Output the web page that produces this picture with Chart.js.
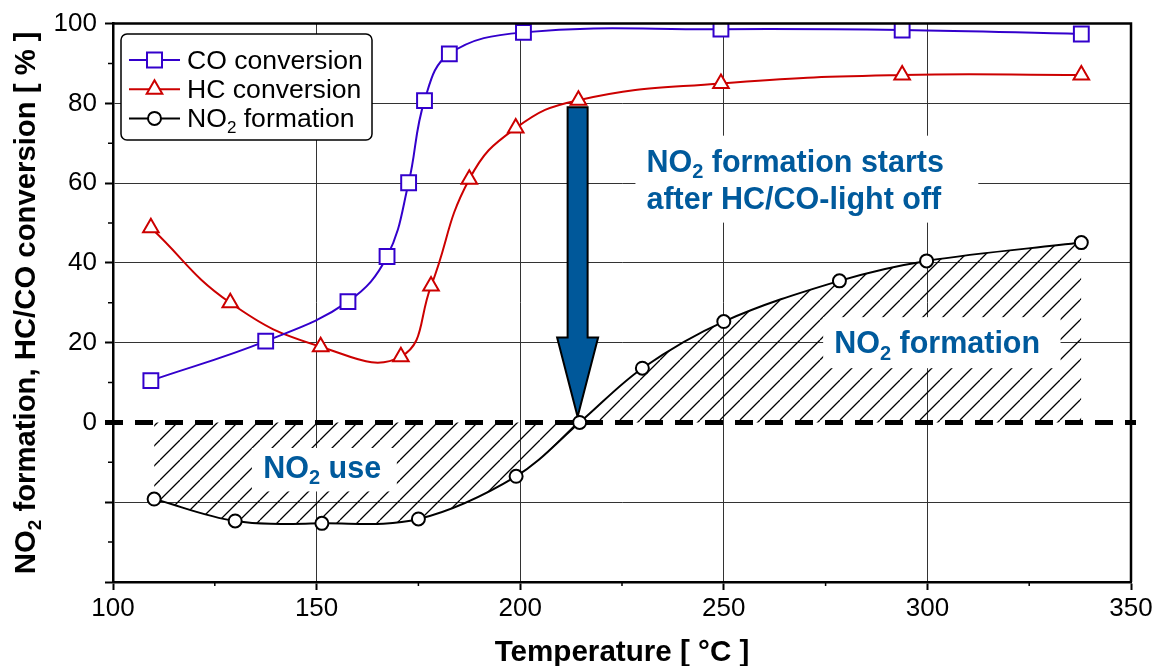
<!DOCTYPE html>
<html>
<head>
<meta charset="utf-8">
<style>
  html, body { margin: 0; padding: 0; background: #fff; }
  #wrap { width: 1162px; height: 666px; }
</style>
<script src="https://cdn.jsdelivr.net/npm/chart.js@4.4.1/dist/chart.umd.min.js"></script>
</head>
<body>
<div id="wrap"><canvas id="chart" width="1162" height="666"></canvas></div>
<script>
// values
const coTemp = [109.3, 137.5, 157.7, 167.3, 172.6, 176.5, 182.6, 200.8, 249.3, 293.8, 337.8];
const coConv = [10.5, 20.4, 30.3, 41.6, 60.1, 80.7, 92.4, 97.8, 98.6, 98.4, 97.4];
const hcTemp = [109.3, 128.8, 151.0, 170.7, 178.1, 187.5, 198.9, 214.3, 249.3, 293.8, 337.8];
const hcConv = [48.8, 30.0, 19.0, 16.5, 34.2, 61.0, 73.8, 80.8, 85.0, 87.1, 87.1];
const no2Temp = [110.1, 130.0, 151.3, 175.0, 199.0, 214.6, 230.0, 250.0, 278.4, 299.8, 337.8];
const no2Form = [-19.2, -24.7, -25.3, -24.2, -13.5, 0, 13.6, 25.3, 35.5, 40.5, 45.1];
const yTickLabels = [0, 20, 40, 60, 80, 100];

const FONT = "'Liberation Sans', Arial, Helvetica, sans-serif";
const noteBlue = '#005A9C';

const colors = { co: '#3300CC', hc: '#CC0000', no2: '#000000' };

const toPts = (xs, ys) => xs.map((x, i) => ({ x, y: ys[i] }));

// text pieces: [text, isSubscript]
const legendItems = [
  { parts: [['CO conversion', 0]], color: colors.co, style: 'rect' },
  { parts: [['HC conversion', 0]], color: colors.hc, style: 'triangle' },
  { parts: [['NO', 0], ['2', 1], [' formation', 0]], color: colors.no2, style: 'circle' },
];
const yTitle = [['NO', 0], ['2', 1], [' formation, HC/CO conversion [ % ]', 0]];
const xTitle = [['Temperature [ °C ]', 0]];

const notes = [
  {
    box: [228.3, 71.9, 312.5, 50.1],
    left: 231, baseline: 62.7, gap: 36.5,
    lines: [[['NO', 0], ['2', 1], [' formation starts', 0]], [['after HC/CO-light off', 0]]],
  },
  {
    box: [274.4, 26.4, 332.7, 13.6],
    left: 277.1, baseline: 17.3, gap: 0,
    lines: [[['NO', 0], ['2', 1], [' formation', 0]]],
  },
  {
    box: [134.1, -6.4, 169.7, -17.3],
    left: 136.9, baseline: -14.0, gap: 0,
    lines: [[['NO', 0], ['2', 1], [' use', 0]]],
  },
];

const arrow = { x: 214.1, top: 79, neck: 21.3, tip: 1.4, shaft: 20, head: 41 };

const drawRich = (ctx, parts, x, y, size, color, align = 'left', weight = 'bold') => {
  const subSize = Math.round(size * 0.64);
  const fontOf = (sub) => `${weight} ${sub ? subSize : size}px ${FONT}`;
  let total = 0;
  parts.forEach(([t, sub]) => { ctx.font = fontOf(sub); total += ctx.measureText(t).width; });
  let cx = align === 'center' ? x - total / 2 : x;
  ctx.fillStyle = color;
  ctx.textAlign = 'left';
  ctx.textBaseline = 'alphabetic';
  parts.forEach(([t, sub]) => {
    ctx.font = fontOf(sub);
    ctx.fillText(t, cx, sub ? y + size * 0.2 : y);
    cx += ctx.measureText(t).width;
  });
};

const drawMarker = (ctx, style, x, y, color) => {
  ctx.save();
  ctx.strokeStyle = color;
  ctx.fillStyle = '#fff';
  ctx.lineWidth = 2;
  ctx.beginPath();
  if (style === 'rect') {
    ctx.rect(x - 7.5, y - 7.5, 15, 15);
  } else if (style === 'triangle') {
    const r = 9;
    ctx.moveTo(x, y - r);
    ctx.lineTo(x + r * 0.866, y + r * 0.5);
    ctx.lineTo(x - r * 0.866, y + r * 0.5);
    ctx.closePath();
  } else {
    ctx.arc(x, y, 6.5, 0, Math.PI * 2);
  }
  ctx.fill();
  ctx.stroke();
  ctx.restore();
};

const makeHatch = (ctx) => {
  const c = document.createElement('canvas');
  c.width = 20; c.height = 20;
  const g = c.getContext('2d');
  g.strokeStyle = '#000';
  g.lineWidth = 1.3;
  g.beginPath();
  [-20, 0, 20].forEach((k) => { g.moveTo(k, 20); g.lineTo(k + 20, 0); });
  g.stroke();
  return ctx.createPattern(c, 'repeat');
};

const decorations = {
  id: 'decorations',
  beforeDatasetsDraw(chart) {
    const { ctx, scales: { x, y } } = chart;
    // dashed zero line
    const y0 = y.getPixelForValue(0);
    ctx.save();
    ctx.strokeStyle = '#000';
    ctx.lineWidth = 5;
    ctx.setLineDash([18, 12]);
    ctx.beginPath();
    ctx.moveTo(x.left - 8, y0);
    ctx.lineTo(x.right + 5, y0);
    ctx.stroke();
    ctx.restore();

    // arrow
    const ax = x.getPixelForValue(arrow.x);
    const top = y.getPixelForValue(arrow.top);
    const neck = y.getPixelForValue(arrow.neck);
    const tip = y.getPixelForValue(arrow.tip);
    const s = arrow.shaft / 2;
    const h = arrow.head / 2;
    ctx.save();
    ctx.beginPath();
    ctx.moveTo(ax - s, top);
    ctx.lineTo(ax + s, top);
    ctx.lineTo(ax + s, neck);
    ctx.lineTo(ax + h, neck);
    ctx.lineTo(ax, tip);
    ctx.lineTo(ax - h, neck);
    ctx.lineTo(ax - s, neck);
    ctx.closePath();
    ctx.fillStyle = '#00589A';
    ctx.fill();
    ctx.strokeStyle = '#000';
    ctx.lineWidth = 2;
    ctx.lineJoin = 'miter';
    ctx.stroke();
    ctx.restore();
  },
  afterDatasetsDraw(chart) {
    const { ctx, chartArea: a, scales: { x, y } } = chart;
    // text boxes
    notes.forEach((n) => {
      const x1 = x.getPixelForValue(n.box[0]);
      const y1 = y.getPixelForValue(n.box[1]);
      const x2 = x.getPixelForValue(n.box[2]);
      const y2 = y.getPixelForValue(n.box[3]);
      ctx.fillStyle = '#fff';
      ctx.fillRect(x1, y1, x2 - x1, y2 - y1);
      const lx = x.getPixelForValue(n.left);
      const by = y.getPixelForValue(n.baseline);
      n.lines.forEach((line, i) => drawRich(ctx, line, lx, by + i * n.gap, 30.5, noteBlue));
    });

    // top and right frame
    ctx.save();
    ctx.strokeStyle = '#000';
    ctx.lineWidth = 2.5;
    ctx.beginPath();
    ctx.moveTo(a.left, a.top);
    ctx.lineTo(a.right, a.top);
    ctx.lineTo(a.right, a.bottom);
    ctx.stroke();

    // minor ticks
    ctx.lineWidth = 1.5;
    ctx.beginPath();
    for (let v = -30; v <= 90; v += 20) {
      const py = y.getPixelForValue(v);
      ctx.moveTo(a.left - 5, py);
      ctx.lineTo(a.left, py);
    }
    for (let v = 125; v <= 325; v += 50) {
      const px = x.getPixelForValue(v);
      ctx.moveTo(px, a.bottom);
      ctx.lineTo(px, a.bottom + 4);
    }
    ctx.stroke();
    ctx.restore();
  },
  afterDraw(chart) {
    const { ctx, chartArea: a } = chart;
    // axis titles
    drawRich(ctx, xTitle, (a.left + a.right) / 2, 661, 29.6, '#000', 'center');
    ctx.save();
    ctx.translate(35, (a.top + a.bottom) / 2);
    ctx.rotate(-Math.PI / 2);
    drawRich(ctx, yTitle, 0, 0, 29.3, '#000', 'center');
    ctx.restore();

    // legend
    const bx = 121, by = 34, bw = 251, bh = 106, r = 6;
    ctx.save();
    ctx.beginPath();
    ctx.moveTo(bx + r, by);
    ctx.arcTo(bx + bw, by, bx + bw, by + bh, r);
    ctx.arcTo(bx + bw, by + bh, bx, by + bh, r);
    ctx.arcTo(bx, by + bh, bx, by, r);
    ctx.arcTo(bx, by, bx + bw, by, r);
    ctx.closePath();
    ctx.fillStyle = '#fff';
    ctx.fill();
    ctx.strokeStyle = '#000';
    ctx.lineWidth = 1.5;
    ctx.stroke();
    legendItems.forEach((item, i) => {
      const ry = 60 + i * 29.2;
      ctx.strokeStyle = item.color;
      ctx.lineWidth = 2;
      ctx.beginPath();
      ctx.moveTo(129, ry);
      ctx.lineTo(180, ry);
      ctx.stroke();
      drawMarker(ctx, item.style, 154.5, ry, item.color);
      drawRich(ctx, item.parts, 187, ry + 9, 26.6, '#000', 'left', 'normal');
    });
    ctx.restore();
  },
};

const canvas = document.getElementById('chart');
const ctx2d = canvas.getContext('2d');

const lineSet = (label, xs, ys, color, style, radius, extra = {}) => ({
  label,
  data: toPts(xs, ys),
  showLine: true,
  borderColor: color,
  borderWidth: 2,
  tension: 0.45,
  pointStyle: style,
  pointRadius: radius,
  pointBorderWidth: 2,
  pointBorderColor: color,
  pointBackgroundColor: '#fff',
  fill: false,
  ...extra,
});

new Chart(ctx2d, {
  type: 'scatter',
  data: {
    datasets: [
      lineSet('CO conversion', coTemp, coConv, colors.co, 'rect', 10.5, { tension: 0.4 }),
      lineSet('HC conversion', hcTemp, hcConv, colors.hc, 'triangle', 9, { tension: 0.45 }),
      lineSet('NO₂ formation', no2Temp, no2Form, colors.no2, 'circle', 6.5, {
        tension: 0.35,
        fill: { value: 0 },
        backgroundColor: makeHatch(ctx2d),
      }),
    ],
  },
  options: {
    responsive: false,
    animation: false,
    events: [],
    layout: { padding: { left: 0, right: 31, top: 22, bottom: 0 } },
    plugins: {
      legend: { display: false },
      tooltip: { enabled: false },
      filler: { drawTime: 'beforeDatasetsDraw' },
    },
    scales: {
      x: {
        type: 'linear',
        min: 100,
        max: 350,
        ticks: { stepSize: 50, color: '#000', font: { family: FONT, size: 26 }, padding: 3, maxRotation: 0 },
        grid: {
          color: '#333',
          lineWidth: 1,
          tickLength: 8,
          tickColor: '#000',
          tickWidth: 2,
        },
        border: { color: '#000', width: 2.5 },
        afterFit: (scale) => { scale.height = 84; },
      },
      y: {
        min: -40,
        max: 100,
        ticks: {
          stepSize: 20,
          color: '#000',
          font: { family: FONT, size: 26 },
          padding: 8,
          callback: (v) => (yTickLabels.includes(v) ? String(v) : ''),
        },
        grid: {
          color: (c) => (c.tick && c.tick.value === 0 ? 'rgba(0,0,0,0)' : '#333'),
          lineWidth: 1,
          tickLength: 8,
          tickColor: '#000',
          tickWidth: 2,
        },
        border: { color: '#000', width: 2.5 },
        afterFit: (scale) => { scale.width = 113; },
      },
    },
  },
  plugins: [decorations],
});
</script>
</body>
</html>
